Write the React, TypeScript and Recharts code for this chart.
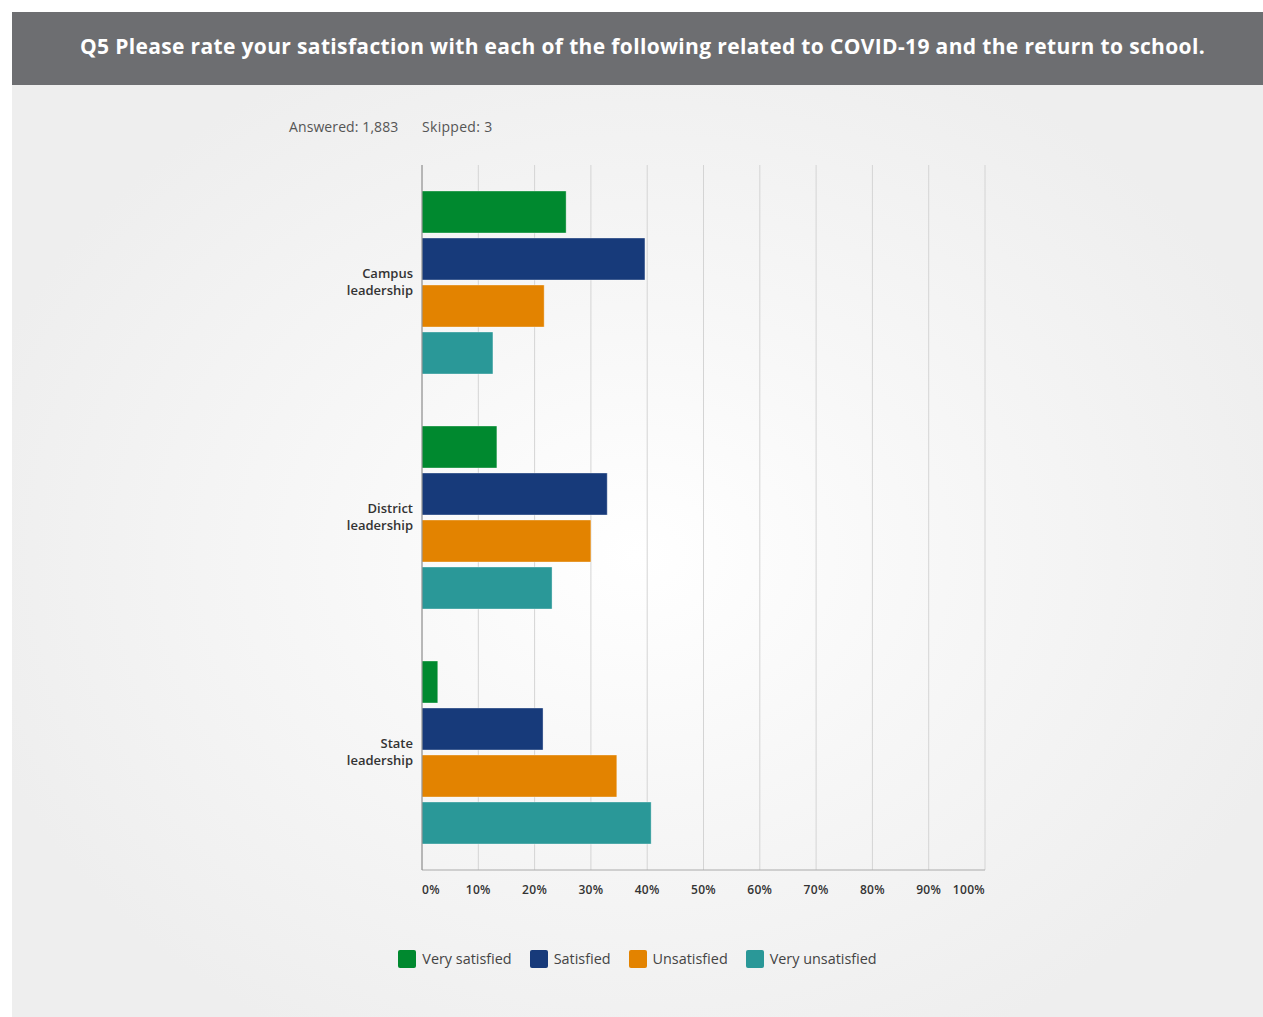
import React from "react";
import { BarChart, Bar, XAxis, YAxis, CartesianGrid } from "recharts";

const categories = ["Campus leadership", "District leadership", "State leadership"];
const seriesNames = ["Very satisfied", "Satisfied", "Unsatisfied", "Very unsatisfied"];
const seriesKeys = ["verySatisfied", "satisfied", "unsatisfied", "veryUnsatisfied"];
const seriesColors = ["#00892F", "#173A7A", "#E38300", "#2A9898"];
const verySatisfied = [25.6, 13.3, 2.8];
const satisfied = [39.6, 32.9, 21.5];
const unsatisfied = [21.7, 30.0, 34.6];
const veryUnsatisfied = [12.6, 23.1, 40.7];
const xTicks = [0, 10, 20, 30, 40, 50, 60, 70, 80, 90, 100];
const title = "Q5 Please rate your satisfaction with each of the following related to COVID-19 and the return to school.";
const answeredText = "Answered: 1,883";
const skippedText = "Skipped: 3";

const data = categories.map((name, i) => ({
  name,
  verySatisfied: verySatisfied[i],
  satisfied: satisfied[i],
  unsatisfied: unsatisfied[i],
  veryUnsatisfied: veryUnsatisfied[i],
}));

const FONT = "'Open Sans', 'Noto Sans', sans-serif";

const XTick = (props: any) => {
  const { x, y, payload } = props;
  const v = payload.value;
  const anchor = v === 0 ? "start" : v === 100 ? "end" : "middle";
  return (
    <text x={x} y={y + 24} textAnchor={anchor} fontFamily={FONT} fontSize={12} fontWeight={600} fill="#333" letterSpacing={0.3}>
      {v + "%"}
    </text>
  );
};

const YTick = (props: any) => {
  const { x, y, payload } = props;
  const words = String(payload.value).split(" ");
  return (
    <text x={x - 9} y={y} textAnchor="end" fontFamily={FONT} fontSize={13} fontWeight={600} fill="#333">
      <tspan x={x - 9} dy={-5}>{words[0]}</tspan>
      <tspan x={x - 9} dy={17}>{words.slice(1).join(" ")}</tspan>
    </text>
  );
};

export default function App() {
  return (
    <div
      style={{
        position: "absolute",
        left: 12,
        top: 12,
        width: 1251,
        height: 1005,
        background: "radial-gradient(ellipse 55% 55% at 50% 54%, #ffffff 0%, #f7f7f7 45%, #eeeeee 100%)",
        overflow: "hidden",
        fontFamily: FONT,
      }}
    >
      <div
        style={{
          position: "absolute",
          left: 0,
          top: 0,
          width: 1241,
          paddingLeft: 10,
          height: 73,
          background: "#6d6e71",
          color: "#fff",
          fontWeight: 700,
          fontSize: 21,
          letterSpacing: 0.35,
          lineHeight: "69px",
          textAlign: "center",
          whiteSpace: "nowrap",
        }}
      >
        {title}
      </div>
      <div style={{ position: "absolute", left: 277, top: 105, fontSize: 14, color: "#555", whiteSpace: "nowrap", letterSpacing: 0.1 }}>
        {answeredText}
      </div>
      <div style={{ position: "absolute", left: 410, top: 105, fontSize: 14, color: "#555", whiteSpace: "nowrap", letterSpacing: 0.3 }}>
        {skippedText}
      </div>
      <div style={{ position: "absolute", left: 0, top: 0 }}>
        <BarChart
          width={1251}
          height={1005}
          data={data}
          layout="vertical"
          margin={{ top: 153, right: 278, bottom: 117, left: 0 }}
          barSize={42}
          barGap={5}
          barCategoryGap={26}
        >
          <CartesianGrid horizontal={false} vertical={true} stroke="#d4d4d4" strokeWidth={1} />
          <XAxis
            type="number"
            domain={[0, 100]}
            ticks={xTicks}
            interval={0}
            height={30}
            tickSize={0}
            tickMargin={0}
            axisLine={{ stroke: "#aaa" }}
            tickLine={false}
            tick={<XTick />}
          />
          <YAxis
            type="category"
            dataKey="name"
            width={410}
            tickSize={0}
            tickMargin={0}
            axisLine={{ stroke: "#888" }}
            tickLine={false}
            tick={<YTick />}
          />
          {seriesKeys.map((k, i) => (
            <Bar key={k} dataKey={k} name={seriesNames[i]} fill={seriesColors[i]} stroke="rgba(255,255,255,0.35)" strokeWidth={1} isAnimationActive={false} />
          ))}
        </BarChart>
      </div>
      <div
        style={{
          position: "absolute",
          left: 0,
          top: 937,
          width: 1251,
          display: "flex",
          justifyContent: "center",
          alignItems: "center",
          gap: 18,
        }}
      >
        {seriesNames.map((n, i) => (
          <div key={n} style={{ display: "flex", alignItems: "center" }}>
            <div style={{ width: 18, height: 18, borderRadius: 2, background: seriesColors[i], marginRight: 6 }} />
            <span style={{ fontSize: 14.4, color: "#444", whiteSpace: "nowrap" }}>{n}</span>
          </div>
        ))}
      </div>
    </div>
  );
}
